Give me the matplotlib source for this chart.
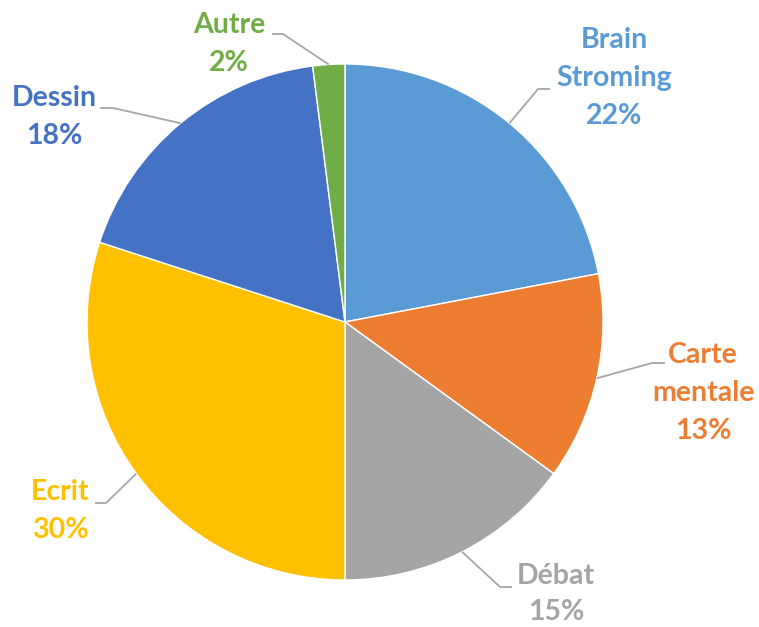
import matplotlib
matplotlib.use("Agg")
import matplotlib.pyplot as plt
import numpy as np

categories = ["Brain\nStroming", "Carte\nmentale", "Débat", "Ecrit", "Dessin", "Autre"]
values = [22, 13, 15, 30, 18, 2]
colors = ["#5B9BD5", "#ED7D31", "#A5A5A5", "#FFC000", "#4472C4", "#70AD47"]

W, H = 759, 627
fig = plt.figure(figsize=(W / 100, H / 100), dpi=100)
ax = fig.add_axes([0, 0, 1, 1])

cx, cy, R = 345, H - 322, 258
wedges, _ = ax.pie(values, colors=colors, startangle=90, counterclock=False,
                   center=(cx, cy), radius=R, frame=True,
                   wedgeprops=dict(edgecolor="white", linewidth=1))
ax.set_xlim(0, W)
ax.set_ylim(0, H)
ax.set_aspect("equal")
ax.axis("off")

# label layout (pixel coords from top-left): text center, elbow, line end
label_pos = [(614, 78), (703, 393), (556, 594), (60, 511), (54, 117), (229, 44)]
elbows = [((538, 89), (550, 89)), ((652, 363), (665, 363)), ((500, 587), (512, 587)),
          ((106, 503), (95, 503)), ((113, 108), (100, 108)), ((283, 34), (272, 34))]

total = sum(values)
start = 90.0
for i, (cat, v) in enumerate(zip(categories, values)):
    ang = start - 360 * v / total / 2
    start -= 360 * v / total
    a = np.deg2rad(ang)
    x0, y0 = cx + R * np.cos(a), cy + R * np.sin(a)
    (ex, ey), (hx, hy) = elbows[i]
    ax.plot([x0, ex, hx], [y0, H - ey, H - hy], color="#A6A6A6", lw=1.3,
            solid_capstyle="butt", zorder=3)
    tx, ty = label_pos[i]
    ls = 1.5 if i == 2 else 1.58
    ax.text(tx, H - ty, f"{cat}\n{v}%", ha="center", va="center", color=colors[i],
            fontsize=20.5, fontweight="bold", family="Lato", linespacing=ls)

fig.savefig("out.png", dpi=100)
